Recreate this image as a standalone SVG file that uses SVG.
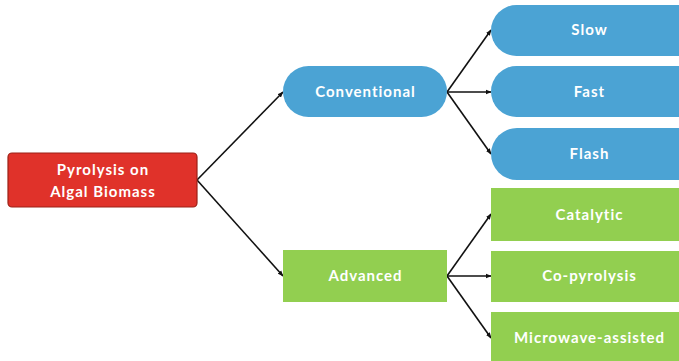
<svg xmlns="http://www.w3.org/2000/svg" width="679" height="361" viewBox="0 0 679 361">
<defs>
<marker id="ah" viewBox="0 0 10 10" refX="9" refY="5" markerWidth="6" markerHeight="6" orient="auto" markerUnits="userSpaceOnUse"><path d="M0,1 L10,5 L0,9 z" fill="#111"/></marker>
</defs>
<style>
.t{font-family:Lato,"Open Sans","DejaVu Sans",sans-serif;font-weight:bold;font-size:15px;letter-spacing:1px;fill:#fff;text-anchor:middle}
.blue{fill:#4ba3d4}
.green{fill:#92cf50}
.c{stroke:#111;stroke-width:1.6;fill:none;marker-end:url(#ah)}
</style>
<rect width="679" height="361" fill="#fff"/>
<g id="connectors">
<line class="c" x1="197" y1="180" x2="283" y2="92"/>
<line class="c" x1="197" y1="180" x2="283" y2="276"/>
<line class="c" x1="447" y1="92" x2="491" y2="30"/>
<line class="c" x1="447" y1="92" x2="491" y2="92"/>
<line class="c" x1="447" y1="92" x2="491" y2="154"/>
<line class="c" x1="447" y1="276" x2="491" y2="214"/>
<line class="c" x1="447" y1="276" x2="491" y2="276"/>
<line class="c" x1="447" y1="276" x2="491" y2="338"/>
</g>
<g id="root">
<rect x="8" y="153" width="189" height="54" rx="4" fill="#e0322a" stroke="#9b2117" stroke-width="1.2"/>
<text class="t" x="103" y="175">Pyrolysis on</text>
<text class="t" x="103" y="197">Algal Biomass</text>
</g>
<g id="conventional">
<rect class="blue" x="283" y="66" width="164" height="51" rx="25.5"/>
<text class="t" x="365.5" y="97">Conventional</text>
</g>
<g id="advanced">
<rect class="green" x="283" y="250" width="164" height="52"/>
<text class="t" x="365.5" y="281">Advanced</text>
</g>
<g id="slow">
<rect class="blue" x="491" y="5" width="214" height="51" rx="25.5"/>
<text class="t" x="589.5" y="35">Slow</text>
</g>
<g id="fast">
<rect class="blue" x="491" y="66" width="214" height="51" rx="25.5"/>
<text class="t" x="589.5" y="97">Fast</text>
</g>
<g id="flash">
<rect class="blue" x="491" y="128" width="214" height="52" rx="26"/>
<text class="t" x="589.5" y="159">Flash</text>
</g>
<g id="catalytic">
<rect class="green" x="491" y="188" width="200" height="53"/>
<text class="t" x="589.5" y="220">Catalytic</text>
</g>
<g id="copyrolysis">
<rect class="green" x="491" y="251" width="200" height="51"/>
<text class="t" x="589.5" y="281">Co-pyrolysis</text>
</g>
<g id="microwave">
<rect class="green" x="491" y="312" width="200" height="60"/>
<text class="t" x="589.5" y="343">Microwave-assisted</text>
</g>
</svg>
